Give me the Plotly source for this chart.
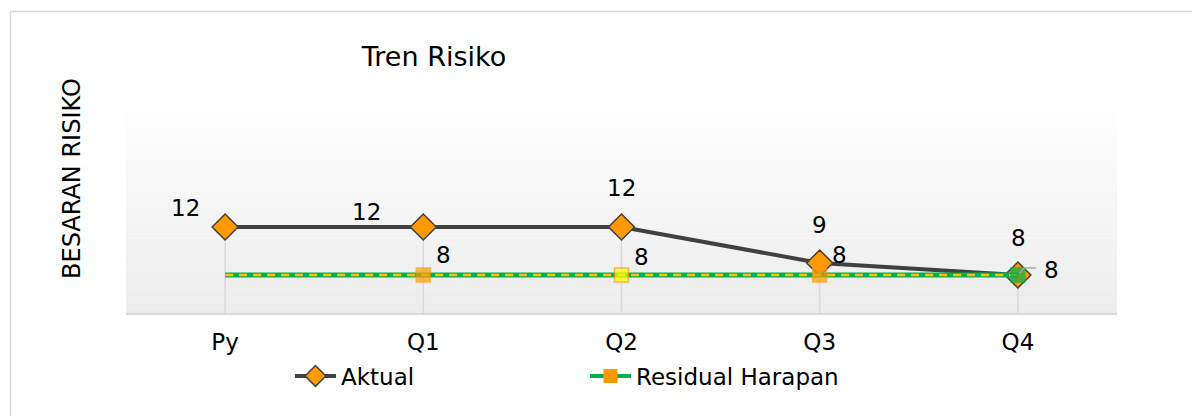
import plotly.graph_objects as go

categories = ["Py", "Q1", "Q2", "Q3", "Q4"]
aktual = [12, 12, 12, 9, 8]
residual = [8, 8, 8, 8, 8]
chart_title = "Tren Risiko"
y_title = "BESARAN RISIKO"

# layout constants (pixels, in figure coordinates; page has 8px body margin)
OFF = 8
W, H = 1200 - OFF, 416 - OFF
L, R, T, B = 126 - OFF, 83, 100 - OFF, 103
PW = W - L - R
PH = H - T - B
y_min, y_max = 4.833, 22.58

FONT = "DejaVu Sans"
ORANGE = "#ff9900"
DARK = "#404040"
GREEN = "#00b050"
GOLD = "#ffc000"


def px_x(page_x):
    return (page_x - OFF - L) / PW


def px_y(page_y):
    return (H - B - (page_y - OFF)) / PH


fig = go.Figure()

# Aktual
fig.add_trace(go.Scatter(
    x=categories, y=aktual, name="Aktual", mode="lines+markers",
    line=dict(color=DARK, width=4),
    marker=dict(symbol="diamond", size=20, color=ORANGE, line=dict(color=DARK, width=1.5)),
    showlegend=True, cliponaxis=False,
))
# Residual green line
fig.add_trace(go.Scatter(
    x=categories, y=residual, mode="lines",
    line=dict(color=GREEN, width=5), showlegend=False, hoverinfo="skip",
))
# Residual dashed gold overlay
fig.add_trace(go.Scatter(
    x=categories, y=residual, mode="lines",
    line=dict(color=GOLD, width=2.5, dash="8px,6px"), showlegend=False, hoverinfo="skip",
))
# Residual markers (per-point styling)
fig.add_trace(go.Scatter(
    x=categories, y=residual, mode="markers", showlegend=False, cliponaxis=False,
    marker=dict(symbol="square", size=[0, 14, 14, 14, 14],
                color=[ORANGE, ORANGE, "#ffff00", ORANGE, GREEN],
                line=dict(color=[ORANGE, ORANGE, ORANGE, ORANGE, GREEN], width=1.5)),
))
# legend entry for Residual Harapan
fig.add_trace(go.Scatter(
    x=[None], y=[None], name="Residual Harapan", mode="lines+markers",
    line=dict(color=GREEN, width=4),
    marker=dict(symbol="square", size=14, color=ORANGE),
))

shapes = []
# gradient background bands
n = 40
for i in range(n):
    t = i / n
    g = int(round(255 - (255 - 236) * (1 - t)))
    shapes.append(dict(type="rect", xref="x domain", yref="y domain",
                       x0=0, x1=1, y0=t, y1=(i + 1) / n, layer="below",
                       line=dict(width=0), fillcolor=f"rgb({g},{g},{g})"))
# drop lines
for c, v in zip(categories, aktual):
    shapes.append(dict(type="line", xref="x", yref="y", x0=c, x1=c, y0=y_min, y1=v,
                       layer="below", line=dict(color="#d9d9d9", width=1.5)))
# outer border (left and top edges only are visible)
shapes.append(dict(type="line", xref="paper", yref="paper",
                   x0=px_x(10.5), x1=px_x(10.5), y0=px_y(420), y1=px_y(11.5),
                   line=dict(color="#d9d9d9", width=1.5), layer="below"))
shapes.append(dict(type="line", xref="paper", yref="paper",
                   x0=px_x(10.5), x1=px_x(1205), y0=px_y(11.5), y1=px_y(11.5),
                   line=dict(color="#d9d9d9", width=1.5), layer="below"))
# leader line for last residual label
shapes.append(dict(type="path", xref="x", yref="y",
                   xsizemode="pixel", ysizemode="pixel",
                   xanchor=len(categories) - 1, yanchor=residual[-1],
                   path="M2,2 L6,7 L18,7", line=dict(color="#a6a6a6", width=1.5)))

annotations = []
ak_off = [(-40, 19), (-57, 15), (0, 39), (0, 38), (1, 37)]
for c, v, (dx, dy) in zip(categories, aktual, ak_off):
    annotations.append(dict(x=c, y=v, text=str(v), showarrow=False, xshift=dx, yshift=dy,
                            font=dict(family=FONT, size=23, color="#000000")))
res_off = [None, (20, 20), (20, 18), (20, 20), (34, 5)]
for c, v, off in zip(categories, residual, res_off):
    if off is None:
        continue
    dx, dy = off
    annotations.append(dict(x=c, y=v, text=str(v), showarrow=False, xshift=dx, yshift=dy,
                            font=dict(family=FONT, size=23, color="#000000")))
annotations.append(dict(xref="paper", yref="paper", x=px_x(72), y=px_y(179),
                        text=y_title, textangle=-90, showarrow=False,
                        xanchor="center", yanchor="middle",
                        font=dict(family=FONT, size=24, color="#000000")))

fig.update_layout(
    width=W, height=H,
    margin=dict(l=L, r=R, t=T, b=B),
    paper_bgcolor="white", plot_bgcolor="white",
    title=dict(text=chart_title, x=(434 - OFF) / W, xanchor="center",
               y=1 - (57 - OFF) / H, yanchor="middle",
               font=dict(family=FONT, size=27, color="#000000")),
    xaxis=dict(type="category", range=[-0.5, 4.5], showgrid=False, zeroline=False,
               showline=True, linecolor="#d9d9d9", linewidth=1.5, ticks="",
               ticklabelstandoff=8,
               tickfont=dict(family=FONT, size=23, color="#000000")),
    yaxis=dict(range=[y_min, y_max], visible=False, showgrid=False, zeroline=False),
    legend=dict(orientation="h", x=px_x(290), xanchor="left",
                y=px_y(376), yanchor="middle",
                itemwidth=41,
                entrywidth=239, entrywidthmode="pixels",
                font=dict(family=FONT, size=23, color="#000000"),
                bgcolor="rgba(0,0,0,0)"),
    shapes=shapes, annotations=annotations,
    showlegend=True,
)

fig.write_html("out.html")
